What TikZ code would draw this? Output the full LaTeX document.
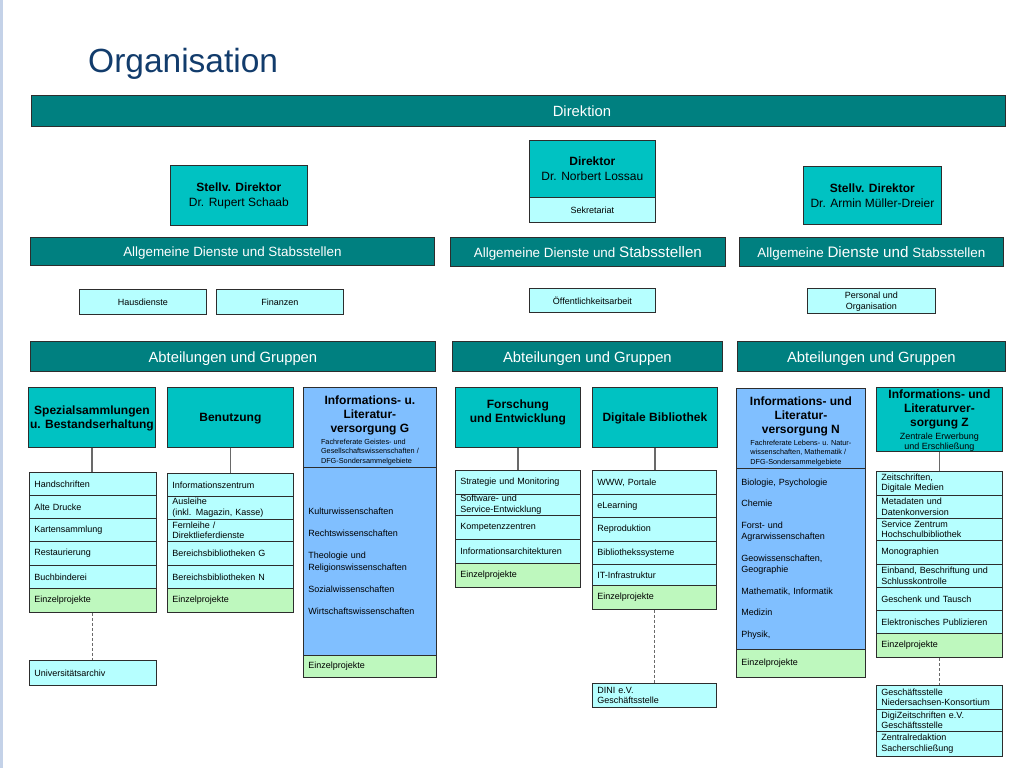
\documentclass[tikz,border=0pt]{standalone}
\usepackage{fontspec}
\setmainfont{Liberation Sans}
\definecolor{bardark}{RGB}{0,128,128}
\definecolor{headcyan}{RGB}{0,194,194}
\definecolor{cellcyan}{RGB}{182,255,255}
\definecolor{cellgreen}{RGB}{190,248,190}
\definecolor{cellblue}{RGB}{128,191,255}
\definecolor{rimgray}{RGB}{45,45,45}
\definecolor{linegray}{RGB}{105,105,105}
\definecolor{titleblue}{RGB}{18,60,108}
\definecolor{bordertint}{RGB}{196,210,232}
\newcommand{\ftitle}{\fontsize{33.5}{40}\selectfont}
\newcommand{\fbar}{\fontsize{14.8}{17}\selectfont}
\newcommand{\fdienst}{\fontsize{13.4}{16}\selectfont}
\newcommand{\fbig}{\fontsize{15.2}{17}\selectfont}
\newcommand{\fname}{\fontsize{12}{15}\selectfont}
\newcommand{\fhead}{\fontsize{12}{14.3}\selectfont\bfseries}
\newcommand{\fcell}{\fontsize{9}{10.5}\selectfont}
\newcommand{\fbody}{\fontsize{9}{11.5}\selectfont}
\newcommand{\fnote}{\normalfont\fontsize{9}{10}\selectfont}
\newcommand{\ftiny}{\normalfont\fontsize{7.3}{9.5}\selectfont}
\tikzset{
  box/.style={draw=rimgray, line width=0.8pt, anchor=north west, inner sep=0pt},
  bar/.style={box, fill=bardark, text=white, font=\fbar, text height=13pt, text depth=1.6pt},
  dienst/.style={box, fill=bardark, text=white, font=\fdienst, text height=12.5pt, text depth=1.5pt},
  chief/.style={box, fill=headcyan, align=center},
  fachhead/.style={box, fill=cellblue, align=center},
  staff/.style={box, fill=cellcyan, font=\fcell, align=center},
  cell/.style={box, fill=cellcyan, font=\fcell, align=left, inner xsep=5pt, text width=#1},
  proj/.style={cell=#1, fill=cellgreen},
  fach/.style={cell=#1, fill=cellblue, font=\fbody},
  wire/.style={draw=linegray, line width=1.2pt},
  dots/.style={draw=linegray, line width=1pt, dash pattern=on 3pt off 2pt},
}
\begin{document}
\begin{tikzpicture}[x=1pt,y=-1pt]
\useasboundingbox (0,0) rectangle (1024,768);
\fill[white] (0,0) rectangle (1024,768);
\fill[bordertint] (0,0) rectangle (3,768);
\node[anchor=base west, inner sep=0pt, text=titleblue, font=\ftitle] (title) at (88,72) {Organisation};

\node[bar, minimum width=974pt, minimum height=31pt] (direktion) at (31,95) {};
\node[text=white, font=\fbar] (direktionname) at (582,111.3) {Direktion};

\node[chief, font=\fname, minimum width=137pt, minimum height=60pt] (schaab) at (170,165) {\textbf{Stellv. Direktor}\\Dr. Rupert Schaab};
\node[chief, font=\fname, minimum width=126pt, minimum height=57pt] (lossau) at (529,140) {\textbf{Direktor}\\Dr. Norbert Lossau};
\node[staff, minimum width=126pt, minimum height=25pt] (sekretariat) at (529,197) {Sekretariat};
\node[chief, font=\fname, minimum width=138pt, minimum height=58pt] (mueller) at (803,166) {\textbf{Stellv. Direktor}\\Dr. Armin Müller-Dreier};

\node[dienst, minimum width=404pt, minimum height=28pt] (dienstl) at (30,237) {Allgemeine Dienste und Stabsstellen};
\node[dienst, minimum width=275pt, minimum height=29pt] (dienstm) at (450,237) {Allgemeine Dienste und {\fbig Stabsstellen}};
\node[dienst, minimum width=264pt, minimum height=29pt] (dienstr) at (739,237) {Allgemeine {\fbig Dienste und} Stabsstellen};

\node[staff, minimum width=127pt, minimum height=25pt] (haus) at (79,289) {Hausdienste};
\node[staff, minimum width=127pt, minimum height=25pt] (finanzen) at (216,289) {Finanzen};
\node[staff, minimum width=126pt, minimum height=24pt] (presse) at (529,288) {Öffentlichkeitsarbeit};
\node[staff, minimum width=128pt, minimum height=25pt, text depth=-4pt] (personal) at (807,288) {Personal und\\Organisation};

\node[bar, minimum width=405pt, minimum height=30pt] (abtl) at (30,341) {Abteilungen und Gruppen};
\node[bar, minimum width=270pt, minimum height=30pt] (abtm) at (452,341) {Abteilungen und Gruppen};
\node[bar, minimum width=268pt, minimum height=30pt] (abtr) at (737,341) {Abteilungen und Gruppen};

\node[chief, font=\fhead, minimum width=127pt, minimum height=60pt, text depth=-2pt] (spezial) at (28,387) {Spezialsammlungen\\u. Bestandserhaltung};
\node[cell=117pt, minimum height=23pt] (hs) at (29,472) {Handschriften};
\node[cell=117pt, minimum height=23pt] (druck) at (29,495) {Alte Drucke};
\node[cell=117pt, minimum height=23pt] (karten) at (29,518) {Kartensammlung};
\node[cell=117pt, minimum height=24pt] (restaur) at (29,541) {Restaurierung};
\node[cell=117pt, minimum height=23pt] (buchbind) at (29,565) {Buchbinderei};
\node[proj=117pt, minimum height=24pt] (spezproj) at (29,588) {Einzelprojekte};
\node[cell=117pt, minimum height=25pt] (archiv) at (29,660) {Universitätsarchiv};

\node[chief, font=\fhead, minimum width=126pt, minimum height=60pt, text depth=-2pt] (benutzung) at (167,387) {Benutzung};
\node[cell=116pt, minimum height=23pt] (infoz) at (167,473) {Informationszentrum};
\node[cell=116pt, minimum height=23pt] (ausleihe) at (167,496) {Ausleihe\\(inkl. Magazin, Kasse)};
\node[cell=116pt, minimum height=22pt] (fernleihe) at (167,519) {Fernleihe /\\Direktlieferdienste};
\node[cell=116pt, minimum height=24pt] (bbg) at (167,541) {Bereichsbibliotheken G};
\node[cell=116pt, minimum height=23pt] (bbn) at (167,565) {Bereichsbibliotheken N};
\node[proj=116pt, minimum height=24pt] (benproj) at (167,588) {Einzelprojekte};

\node[fachhead, font=\fhead, minimum width=133pt, minimum height=80pt, text depth=5.5pt] (litg) at (303,387) {Informations- u.\\Literatur-\\versorgung G\\[1.5pt]{\ftiny\begin{tabular}{@{}l@{}}Fachreferate Geistes- und\\Gesellschaftswissenschaften /\\DFG-Sondersammelgebiete\end{tabular}}};
\node[fach=123pt, minimum height=188pt] (gbody) at (303,467) {Kulturwissenschaften\\[10.5pt]Rechtswissenschaften\\[10.5pt]Theologie und\\Religionswissenschaften\\[10.5pt]Sozialwissenschaften\\[10.5pt]Wirtschaftswissenschaften};
\node[proj=123pt, minimum height=22pt] (gproj) at (303,655) {Einzelprojekte};

\node[chief, font=\fhead, minimum width=125pt, minimum height=60pt, text depth=13pt] (forschung) at (455,387) {Forschung\\und Entwicklung};
\node[cell=115pt, minimum height=24pt] (strat) at (455,470) {Strategie und Monitoring};
\node[cell=115pt, minimum height=21pt] (softw) at (455,494) {Software- und\\Service-Entwicklung};
\node[cell=115pt, minimum height=24pt] (kompet) at (455,515) {Kompetenzzentren};
\node[cell=115pt, minimum height=24pt] (infoarch) at (455,539) {Informationsarchitekturen};
\node[proj=115pt, minimum height=24pt] (forproj) at (455,563) {Einzelprojekte};

\node[chief, font=\fhead, minimum width=125pt, minimum height=60pt, text depth=-2pt] (digital) at (592,387) {Digitale Bibliothek};
\node[cell=114pt, minimum height=24pt] (www) at (592,470) {WWW, Portale};
\node[cell=114pt, minimum height=23pt] (elearn) at (592,494) {eLearning};
\node[cell=114pt, minimum height=24pt] (repro) at (592,517) {Reproduktion};
\node[cell=114pt, minimum height=23pt] (bibsys) at (592,541) {Bibliothekssysteme};
\node[cell=114pt, minimum height=21pt] (itinfra) at (592,564) {IT-Infrastruktur};
\node[proj=114pt, minimum height=24pt] (digproj) at (592,585) {Einzelprojekte};
\node[cell=114pt, minimum height=24pt] (dini) at (592,683) {DINI e.V.\\Geschäftsstelle};

\node[fachhead, font=\fhead, minimum width=129pt, minimum height=80pt, text depth=5.5pt] (litn) at (736,388) {Informations- und\\Literatur-\\versorgung N\\[1.5pt]{\ftiny\begin{tabular}{@{}l@{}}Fachreferate Lebens- u. Natur-\\wissenschaften, Mathematik /\\DFG-Sondersammelgebiete\end{tabular}}};
\node[fach=119pt, minimum height=181pt] (nbody) at (736,468) {Biologie, Psychologie\\[10pt]Chemie\\[10pt]Forst- und\\Agrarwissenschaften\\[10pt]Geowissenschaften,\\Geographie\\[10pt]Mathematik, Informatik\\[10pt]Medizin\\[10pt]Physik,};
\node[proj=119pt, minimum height=28pt] (nproj) at (736,649) {Einzelprojekte};

\node[chief, font=\fhead, minimum width=126pt, minimum height=64pt, text depth=-2pt] (litz) at (876,387) {Informations- und\\Literaturver-\\sorgung Z\\[-2pt]{\fnote Zentrale Erwerbung}\\[-4pt]{\fnote und Erschließung}};
\node[cell=116pt, minimum height=24pt] (zeitschr) at (876,471) {Zeitschriften,\\Digitale Medien};
\node[cell=116pt, minimum height=23pt] (metadaten) at (876,495) {Metadaten und\\Datenkonversion};
\node[cell=116pt, minimum height=22pt] (service) at (876,518) {Service Zentrum\\Hochschulbibliothek};
\node[cell=116pt, minimum height=24pt] (monogr) at (876,540) {Monographien};
\node[cell=116pt, minimum height=23pt] (einband) at (876,564) {Einband, Beschriftung und\\Schlusskontrolle};
\node[cell=116pt, minimum height=23pt] (geschenk) at (876,587) {Geschenk und Tausch};
\node[cell=116pt, minimum height=23pt] (epub) at (876,610) {Elektronisches Publizieren};
\node[proj=116pt, minimum height=24pt] (zproj) at (876,633) {Einzelprojekte};
\node[cell=116pt, minimum height=24pt] (konsort) at (876,685) {Geschäftsstelle\\Niedersachsen-Konsortium};
\node[cell=116pt, minimum height=22pt] (digiz) at (876,709) {DigiZeitschriften e.V.\\Geschäftsstelle};
\node[cell=116pt, minimum height=25pt] (zentralred) at (876,731) {Zentralredaktion\\Sacherschließung};

\draw[wire] (spezial.south) -- (spezial.south |- hs.north);
\draw[wire] (benutzung.south) -- (benutzung.south |- infoz.north);
\draw[wire] (forschung.south) -- (forschung.south |- strat.north);
\draw[wire] (digital.south) -- (digital.south |- www.north);
\draw[wire] (litz.south) -- (litz.south |- zeitschr.north);
\draw[dots] (spezproj.south) -- (archiv.north);
\draw[dots] (digproj.south) -- (dini.north);
\draw[dots] (zproj.south) -- (konsort.north);
\end{tikzpicture}
\end{document}
